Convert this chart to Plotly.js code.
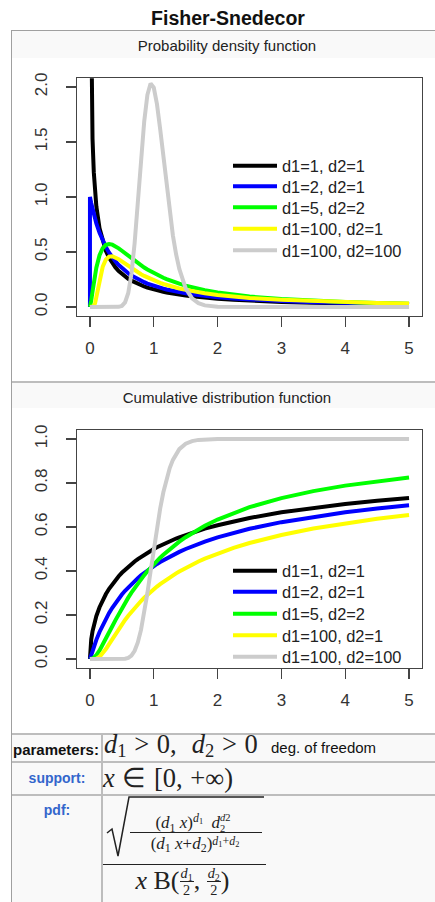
<!DOCTYPE html>
<html><head><meta charset="utf-8">
<script src="https://cdn.plot.ly/plotly-3.0.1.min.js"></script>
<style>
html,body{margin:0;padding:0;background:#fff;}
body{width:435px;height:902px;position:relative;overflow:hidden;font-family:"Liberation Sans",Arial,sans-serif;}
.a{position:absolute;white-space:nowrap;}
#title{left:11px;width:434px;top:9px;text-align:center;font-weight:bold;font-size:19.5px;line-height:19.5px;color:#111;}
#box{left:11px;top:30px;width:440px;height:880px;border-left:1px solid #a0a0a0;border-top:1px solid #a0a0a0;background:#f9f9f9;}
.img{left:12px;width:430px;background:#fff;}
.band{left:12px;width:430px;text-align:center;font-size:15px;line-height:15px;color:#222;}
.hl{left:12px;width:430px;height:2px;background:#bdbdbd;}
.vl{width:2px;background:#bdbdbd;}
.lab{font-weight:bold;line-height:1;}
.blue{color:#3366cc;font-size:14px;left:12px;width:90px;text-align:center;}
.m{font-family:"Liberation Serif","Times New Roman",serif;color:#222;line-height:1;}
.m sub{font-size:0.7em;vertical-align:-0.28em;line-height:0;}
.m sup{font-size:0.7em;vertical-align:0.5em;line-height:0;}
.m sup.lo{vertical-align:0.3em;}
.big{font-size:26.5px;word-spacing:1px;}
.big sub{vertical-align:-0.2em;}
.ss{display:inline-block;vertical-align:-0.3em;line-height:10.5px;font-size:10.5px;text-align:left;}
.ss span{display:block;}
.fr{display:inline-block;vertical-align:-0.45em;font-size:0.55em;line-height:1.15;text-align:center;}
.fr span{display:block;padding:0 1px;}
.fr .n{border-bottom:1px solid #222;}
#plot{left:0;top:0;width:435px;height:735px;}
</style>
</head><body>
<div id="box" class="a"></div>
<div class="a img" style="top:58px;height:324px"></div>
<div class="a hl" style="top:381px"></div>
<div class="a img" style="top:408px;height:325px"></div>
<div class="a hl" style="top:733px"></div>
<div class="a hl" style="top:761px"></div>
<div class="a hl" style="top:794px"></div>
<div class="a vl" style="left:101px;top:733px;height:170px"></div>
<div id="title" class="a">Fisher-Snedecor</div>
<div class="a band" style="top:38px">Probability density function</div>
<div class="a band" style="top:390px">Cumulative distribution function</div>
<div id="plot" class="a"></div>

<div class="a lab" style="left:13px;top:742px;font-size:15px;color:#111">parameters:</div>
<div class="a lab blue" style="top:771px">support:</div>
<div class="a lab blue" style="top:803px">pdf:</div>

<div class="a m big" style="left:104px;top:731px"><i>d</i><sub>1</sub> &gt; 0,&nbsp; <i>d</i><sub>2</sub> &gt; 0</div>
<div class="a" style="left:271px;top:740px;font-size:15px;line-height:1;color:#111">deg. of freedom</div>
<div class="a m big" style="left:103px;top:765px"><i>x</i> ∈ [0, +∞)</div>

<svg class="a" style="left:0;top:0" width="435" height="902">
<path d="M107,833 L112,829 L118,856 L129,797 L264,797" fill="none" stroke="#222" stroke-width="1.5"/>
<line x1="130" y1="832.5" x2="262" y2="832.5" stroke="#222" stroke-width="1"/>
<line x1="103" y1="864.5" x2="266" y2="864.5" stroke="#222" stroke-width="1.2"/>
</svg>
<div class="a m" style="left:127px;width:132px;text-align:center;top:813px;font-size:17px">(<i>d</i><sub>1</sub> <i>x</i>)<sup><i>d</i><sub>1</sub></sup>&nbsp;&nbsp;<i>d</i><span class="ss"><span><i>d</i>2</span><span>2</span></span></div>
<div class="a m" style="left:129px;width:132px;text-align:center;top:835px;font-size:17px">(<i>d</i><sub>1</sub> <i>x</i>+<i>d</i><sub>2</sub>)<sup class="lo"><i>d</i><sub>1</sub>+<i>d</i><sub>2</sub></sup></div>
<div class="a m" style="left:101px;width:163px;text-align:center;top:865px;font-size:26px"><i>x</i> B(<span class="fr"><span class="n"><i>d</i><sub>1</sub></span><span>2</span></span>, <span class="fr"><span class="n"><i>d</i><sub>2</sub></span><span>2</span></span>)</div>

<script>
// grid of x positions (the density plot starts with a vertical step at x = 0)
var xsPdf = [0,0,0.01,0.02,0.04,0.06,0.08,0.1,0.15,0.2,0.25,0.3,0.35,0.4,0.45,0.5,0.55,0.6,0.65,0.7,0.75,0.8,0.85,0.9,0.95,1.0,1.05,1.1,1.15,1.2,1.25,1.3,1.35,1.4,1.5,1.6,1.7,1.8,2.0,2.25,2.5,3.0,3.5,4.0,4.5,5.0];
var xsCdf = [0,0.01,0.02,0.04,0.06,0.08,0.1,0.15,0.2,0.25,0.3,0.35,0.4,0.45,0.5,0.55,0.6,0.65,0.7,0.75,0.8,0.85,0.9,0.95,1.0,1.05,1.1,1.15,1.2,1.25,1.3,1.35,1.4,1.5,1.6,1.7,1.8,2.0,2.25,2.5,3.0,3.5,4.0,4.5,5.0];

var seriesNames = ['d1=1, d2=1','d1=2, d2=1','d1=5, d2=2','d1=100, d2=1','d1=100, d2=100'];
var seriesColors = ['#000000','#0000ff','#00ff00','#ffff00','#cccccc'];

// probability density values
var pdf_1_1 = [null,null,3.152,2.207,1.530,1.226,1.042,0.9151,0.7147,0.5931,0.5093,0.4470,0.3986,0.3595,0.3272,0.3001,0.2769,0.2568,0.2393,0.2238,0.2100,0.1977,0.1866,0.1766,0.1675,0.1592,0.1515,0.1445,0.1381,0.1321,0.1265,0.1214,0.1166,0.1121,0.1040,0.0968,0.0904,0.0847,0.0750,0.0653,0.0575,0.0459,0.0378,0.0318,0.0273,0.0237];
var pdf_2_1 = [0,1.0,0.9707,0.9429,0.8910,0.8437,0.8004,0.7607,0.6747,0.6037,0.5443,0.4941,0.4512,0.4141,0.3818,0.3536,0.3286,0.3065,0.2867,0.2690,0.2530,0.2385,0.2254,0.2134,0.2025,0.1925,0.1832,0.1747,0.1668,0.1595,0.1527,0.1464,0.1405,0.1350,0.1250,0.1162,0.1083,0.1014,0.0894,0.0775,0.0680,0.0540,0.0442,0.0370,0.0316,0.0274];
var pdf_5_2 = [0,0,0.0227,0.0589,0.1416,0.2226,0.2953,0.3578,0.4708,0.5346,0.5646,0.5726,0.5667,0.5524,0.5332,0.5112,0.4881,0.4648,0.4418,0.4195,0.3982,0.3780,0.3589,0.3408,0.3239,0.3080,0.2931,0.2791,0.2660,0.2537,0.2422,0.2314,0.2212,0.2117,0.1943,0.1789,0.1652,0.1529,0.1321,0.1114,0.0952,0.0717,0.0559,0.0448,0.0367,0.0306];
var pdf_100_1 = [0,0,0,0,0.0002,0.0065,0.0340,0.0850,0.2450,0.3661,0.4319,0.4586,0.4617,0.4518,0.4350,0.4151,0.3940,0.3731,0.3528,0.3335,0.3153,0.2984,0.2827,0.2681,0.2545,0.2420,0.2303,0.2195,0.2094,0.2001,0.1913,0.1832,0.1756,0.1685,0.1556,0.1442,0.1341,0.1251,0.1098,0.0947,0.0826,0.0650,0.0528,0.0440,0.0374,0.0323];
var pdf_100_100 = [0,0,0,0,0,0,0,0,0,0,0,0,0,0.0001,0.0015,0.0098,0.0417,0.1274,0.3017,0.5809,0.9452,1.3381,1.6868,1.9292,2.0318,1.9947,1.8440,1.6187,1.3588,1.0971,0.8564,0.6490,0.4793,0.3461,0.1703,0.0788,0.0347,0.0148,0.0025,0.0003,0,0,0,0,0,0];

// cumulative distribution values
var cdf_1_1 = [0,0.0635,0.0894,0.1257,0.1529,0.1755,0.1950,0.2353,0.2677,0.2952,0.3190,0.3401,0.3590,0.3762,0.3918,0.4063,0.4196,0.4319,0.4435,0.4544,0.4646,0.4742,0.4832,0.4918,0.5000,0.5078,0.5152,0.5222,0.5290,0.5354,0.5416,0.5476,0.5533,0.5641,0.5741,0.5835,0.5923,0.6082,0.6257,0.6410,0.6667,0.6875,0.7048,0.7196,0.7323];
var cdf_2_1 = [0,0.0099,0.0194,0.0378,0.0551,0.0715,0.0871,0.1229,0.1548,0.1835,0.2094,0.2330,0.2546,0.2745,0.2929,0.3099,0.3258,0.3406,0.3545,0.3675,0.3798,0.3914,0.4024,0.4128,0.4226,0.4320,0.4410,0.4495,0.4577,0.4655,0.4730,0.4801,0.4870,0.5000,0.5120,0.5233,0.5337,0.5528,0.5736,0.5918,0.6220,0.6464,0.6667,0.6838,0.6985];
var cdf_5_2 = [0,0.0001,0.0005,0.0025,0.0061,0.0113,0.0179,0.0388,0.0642,0.0917,0.1202,0.1488,0.1768,0.2039,0.2300,0.2550,0.2789,0.3015,0.3230,0.3435,0.3629,0.3813,0.3988,0.4154,0.4312,0.4462,0.4605,0.4741,0.4871,0.4995,0.5114,0.5227,0.5335,0.5538,0.5724,0.5896,0.6055,0.6339,0.6643,0.6900,0.7313,0.7630,0.7880,0.8082,0.8250];
var cdf_100_1 = [0,0,0,0,0,0.0004,0.0016,0.0098,0.0253,0.0455,0.0679,0.0910,0.1138,0.1360,0.1573,0.1775,0.1967,0.2149,0.2320,0.2482,0.2636,0.2781,0.2918,0.3049,0.3173,0.3291,0.3404,0.3511,0.3613,0.3711,0.3805,0.3894,0.3980,0.4142,0.4292,0.4431,0.4561,0.4795,0.5050,0.5271,0.5637,0.5930,0.6171,0.6374,0.6547];
var cdf_100_100 = [0,0,0,0,0,0,0,0,0,0,0,0,0,0,0.0003,0.0014,0.0053,0.0156,0.0373,0.0752,0.1323,0.2082,0.2992,0.3988,0.5000,0.5964,0.6832,0.7577,0.8190,0.8677,0.9052,0.9333,0.9538,0.9787,0.9906,0.9960,0.9984,0.9997,1,1,1,1,1,1,1];

var xTickVals = [0,1,2,3,4,5];
var xTickText = ['0','1','2','3','4','5'];
var pdfTickVals = [0,0.5,1,1.5,2];
var pdfTickText = ['0.0','0.5','1.0','1.5','2.0'];
var cdfTickVals = [0,0.2,0.4,0.6,0.8,1];
var cdfTickText = ['0.0','0.2','0.4','0.6','0.8','1.0'];

var pdfSeries = [pdf_1_1,pdf_2_1,pdf_5_2,pdf_100_1,pdf_100_100];
var cdfSeries = [cdf_1_1,cdf_2_1,cdf_5_2,cdf_100_1,cdf_100_100];

var W = 435, H = 735;
// legend row centres (page pixels)
var pdfRows = [166, 186.5, 207.5, 229, 250.5];
var cdfRows = [571, 592, 614, 635.5, 657];

var legFont = {family:'Liberation Sans, Arial, sans-serif', size:16.4, color:'#222'};
var layout = {
  width:W, height:H, margin:{l:0,r:0,t:0,b:0}, autosize:false,
  paper_bgcolor:'rgba(0,0,0,0)', plot_bgcolor:'#ffffff',
  showlegend:true
};
function legendObj(row){
  return {x:228/W, xanchor:'left', y:1-row/H, yanchor:'middle', bgcolor:'rgba(0,0,0,0)', borderwidth:0,
    font:legFont, itemwidth:44};
}
var traces = [];
pdfSeries.forEach(function(s,i){
  var key = 'legend' + (i===0 ? '' : (i+1));
  layout[key] = legendObj(pdfRows[i]);
  traces.push({x:xsPdf,y:s,type:'scatter',mode:'lines',name:seriesNames[i],
    line:{color:seriesColors[i],width:4},xaxis:'x',yaxis:'y',legend:key,hoverinfo:'skip'});
});
cdfSeries.forEach(function(s,i){
  var key = 'legend' + (i+6);
  layout[key] = legendObj(cdfRows[i]);
  traces.push({x:xsCdf,y:s,type:'scatter',mode:'lines',name:seriesNames[i],
    line:{color:seriesColors[i],width:4},xaxis:'x2',yaxis:'y2',legend:key,hoverinfo:'skip'});
});

var tickFont = {family:'Liberation Sans, Arial, sans-serif', size:17, color:'#333'};
function xax(anchor){
  return {domain:[77.2/W, 421.8/W], range:[-0.2,5.2], anchor:anchor, tickmode:'array',
    tickvals:xTickVals, ticktext:xTickText, showgrid:false, zeroline:false, showline:true, mirror:true,
    linecolor:'#444', linewidth:1.3, ticks:'outside', ticklen:10, tickwidth:1.3, tickcolor:'#444',
    tickfont:tickFont, ticklabelstandoff:6, fixedrange:true};
}
function yax(anchor, top, bottom, range, tv, tt){
  return {domain:[1-bottom/H, 1-top/H], range:range, anchor:anchor, tickmode:'array',
    tickvals:tv, ticktext:tt, tickangle:-90, showgrid:false, zeroline:false, showline:true, mirror:true,
    linecolor:'#444', linewidth:1.3, ticks:'outside', ticklen:10, tickwidth:1.3, tickcolor:'#444',
    tickfont:tickFont, ticklabelstandoff:12, fixedrange:true};
}
layout.xaxis = xax('y');
layout.yaxis = yax('x', 78.2, 315.8, [-0.08,2.08], pdfTickVals, pdfTickText);
layout.xaxis2 = xax('y2');
layout.yaxis2 = yax('x2', 430.2, 667.8, [-0.04,1.04], cdfTickVals, cdfTickText);

Plotly.newPlot('plot', traces, layout, {staticPlot:true, displayModeBar:false});
</script>
</body></html>
